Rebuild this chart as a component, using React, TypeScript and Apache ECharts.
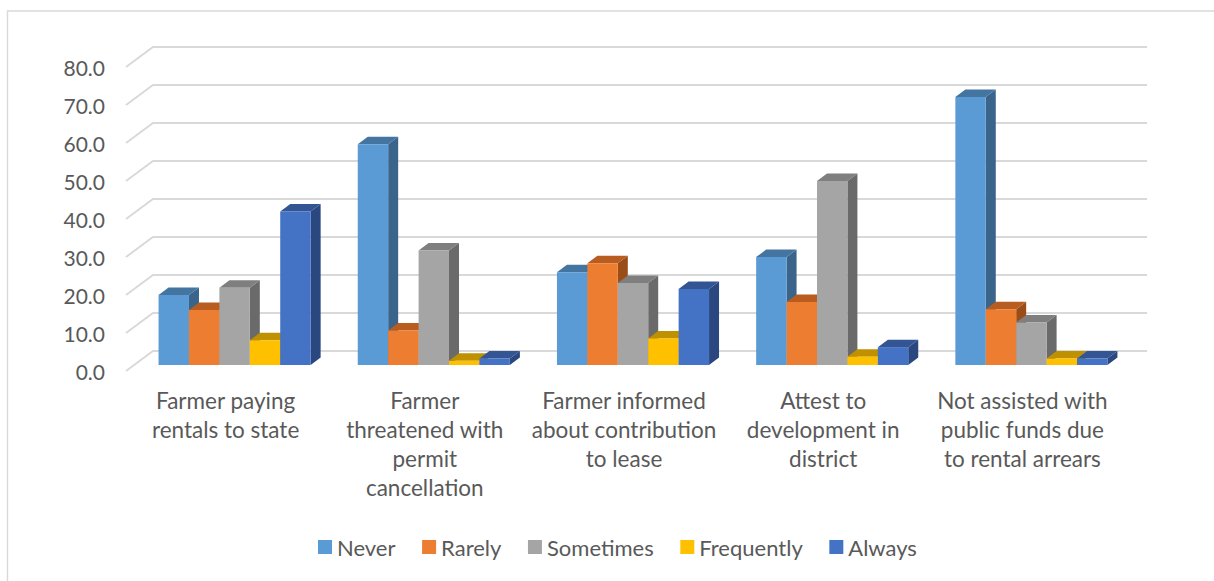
import React, { useEffect, useRef } from "react";
import * as echarts from "echarts";

const categories = [
  "Farmer paying\nrentals to state",
  "Farmer\nthreatened with\npermit\ncancellation",
  "Farmer informed\nabout contribution\nto lease",
  "Attest to\ndevelopment in\ndistrict",
  "Not assisted with\npublic funds due\nto rental arrears",
];
const seriesNames = ["Never", "Rarely", "Sometimes", "Frequently", "Always"];
const never = [18.4, 58.1, 24.4, 28.4, 70.5];
const rarely = [14.5, 9.1, 26.8, 16.6, 14.7];
const sometimes = [20.3, 30.1, 21.6, 48.4, 11.2];
const frequently = [6.5, 1.1, 7.0, 2.2, 1.7];
const always = [40.4, 1.7, 20.0, 4.7, 1.7];
const gridTicks = [0, 10, 20, 30, 40, 50, 60, 70, 80];

const allValues = [never, rarely, sometimes, frequently, always];
const frontColors = ["#5B9BD5", "#ED7D31", "#A5A5A5", "#FFC000", "#4472C4"];
const topColors = ["#4475A1", "#B85C20", "#7F7F7F", "#BF9000", "#335593"];
const sideColors = ["#3A648A", "#9B4D18", "#6A6A6A", "#A37B00", "#2A4780"];

const FONT = "Lato";
const TEXT = "#595959";
const RULE = "#D9D9D9";

// The 3-D look: the back wall sits up and right of the axis plane, the bars part way in.
const WALL_DX = 27;
const WALL_DY = -20;
const BAR_DX = 9;
const BAR_DY = -6;
const DEPTH_DX = 10;
const DEPTH_DY = -7.5;

function renderWallLine(params: any, api: any) {
  const cs = params.coordSys;
  const y = api.coord([0, api.value(1)])[1];
  return {
    type: "polyline",
    silent: true,
    shape: {
      points: [
        [cs.x, y],
        [cs.x + WALL_DX, y + WALL_DY],
        [cs.x + cs.width + 25, y + WALL_DY],
      ],
    },
    style: { fill: "none", stroke: RULE, lineWidth: 2 },
  };
}

function renderBar(seriesIdx: number) {
  return (_params: any, api: any) => {
    const [cx, vy] = api.coord([api.value(0), api.value(1)]);
    const [, by] = api.coord([api.value(0), 0]);
    const w = api.size([1, 0])[0] * 0.1527;
    const x0 = cx + BAR_DX + (seriesIdx - 2.5) * w;
    const x1 = x0 + w;
    const top = vy + BAR_DY;
    const base = by + BAR_DY;
    return {
      type: "group",
      children: [
        {
          type: "polygon",
          shape: {
            points: [
              [x1, top],
              [x1 + DEPTH_DX, top + DEPTH_DY],
              [x1 + DEPTH_DX, base + DEPTH_DY],
              [x1, base],
            ],
          },
          style: { fill: sideColors[seriesIdx] },
        },
        {
          type: "polygon",
          shape: {
            points: [
              [x0, top],
              [x0 + DEPTH_DX, top + DEPTH_DY],
              [x1 + DEPTH_DX, top + DEPTH_DY],
              [x1, top],
            ],
          },
          style: { fill: topColors[seriesIdx] },
        },
        {
          type: "rect",
          shape: { x: x0, y: top, width: w, height: base - top },
          style: { fill: frontColors[seriesIdx] },
        },
      ],
    };
  };
}

export default function App() {
  const ref = useRef<HTMLDivElement>(null);

  useEffect(() => {
    const chart = echarts.init(ref.current!, undefined, { renderer: "svg" });
    chart.setOption({
      animation: false,
      backgroundColor: "#FFFFFF",
      textStyle: { fontFamily: FONT },
      graphic: [
        {
          type: "polyline",
          silent: true,
          shape: { points: [[7.5, 581], [7.5, 11], [1214, 11]] },
          style: { fill: "none", stroke: RULE, lineWidth: 1.4 },
        },
      ],
      legend: {
        data: seriesNames,
        left: 313,
        top: 531,
        icon: "rect",
        itemWidth: 14,
        itemHeight: 14,
        itemGap: 26.6,
        textStyle: { color: TEXT, fontFamily: FONT, fontSize: 22 },
      },
      grid: { left: 126, top: 67, width: 996, height: 304, containLabel: false },
      xAxis: {
        type: "category",
        data: categories,
        axisLine: { show: false },
        axisTick: { show: false },
        splitLine: { show: false },
        axisLabel: {
          interval: 0,
          margin: 15,
          color: TEXT,
          fontFamily: FONT,
          fontSize: 22.5,
          lineHeight: 29,
        },
      },
      yAxis: {
        type: "value",
        min: 0,
        max: 80,
        interval: 10,
        axisLine: { show: false },
        axisTick: { show: false },
        splitLine: { show: false },
        axisLabel: {
          margin: 21,
          color: TEXT,
          fontFamily: FONT,
          fontSize: 21,
          formatter: (v: number) => v.toFixed(1),
        },
      },
      series: [
        {
          type: "custom",
          name: "wall",
          silent: true,
          renderItem: renderWallLine,
          data: gridTicks.map((t) => [0, t]),
          encode: { x: 0, y: 1 },
        },
        ...seriesNames.map((name, i) => ({
          type: "custom",
          name,
          silent: true,
          itemStyle: { color: frontColors[i] },
          renderItem: renderBar(i),
          data: allValues[i].map((v, c) => [c, v]),
          encode: { x: 0, y: 1 },
        })),
      ],
    });
    return () => chart.dispose();
  }, []);

  return (
    <div
      ref={ref}
      style={{ position: "fixed", left: 0, top: 0, width: 1214, height: 581 }}
    />
  );
}
